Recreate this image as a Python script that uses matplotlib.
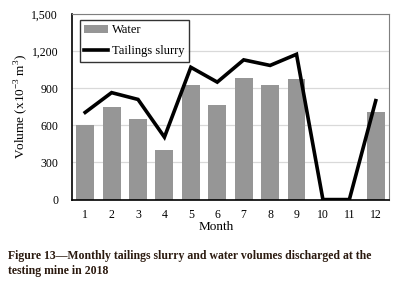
import matplotlib
matplotlib.use("Agg")
import matplotlib.pyplot as plt
from matplotlib.ticker import FuncFormatter

months = [1, 2, 3, 4, 5, 6, 7, 8, 9, 10, 11, 12]
water = [600, 750, 650, 400, 930, 765, 985, 925, 975, 0, 0, 710]
tailings = [705, 865, 810, 505, 1070, 950, 1130, 1085, 1175, 0, 0, 800]
yticks = [0, 300, 600, 900, 1200, 1500]

plt.rcParams['font.family'] = ['Liberation Serif', 'DejaVu Serif']
plt.rcParams['mathtext.fontset'] = 'custom'
plt.rcParams['mathtext.rm'] = 'Liberation Serif'

fig = plt.figure(figsize=(4.16, 2.88), dpi=100)
ax = fig.add_axes([0.173, 0.307, 0.762, 0.644])

bars = ax.bar(months, water, width=0.68, color='#969696', label='Water', zorder=2)
line, = ax.plot(months, tailings, color='black', lw=2.6, label='Tailings slurry', zorder=3,
                solid_joinstyle='miter')

ax.set_xlim(0.5, 12.5)
ax.set_ylim(0, 1500)
ax.set_yticks(yticks)
ax.set_xticks(months)
ax.yaxis.set_major_formatter(FuncFormatter(lambda v, p: f"{int(v):,}"))
ax.tick_params(length=0, labelsize=8.5)
ax.tick_params(axis='y', pad=10)
ax.tick_params(axis='x', pad=7)
ax.grid(axis='y', color='#d9d9d9', lw=0.9, zorder=0)
ax.set_axisbelow(True)
for s in ['top', 'right']:
    ax.spines[s].set_color('#7f7f7f')
    ax.spines[s].set_linewidth(0.8)
for s in ['left', 'bottom']:
    ax.spines[s].set_color('black')
    ax.spines[s].set_linewidth(1.2)

ax.set_xlabel('Month', fontsize=9.5)
ax.xaxis.set_label_coords(0.455, -0.118)
ax.set_ylabel('Volume (x10$^{-3}$ m$^{3}$)', fontsize=9.5, labelpad=1)

leg = ax.legend([bars, line], ['Water', 'Tailings slurry'], loc='upper left',
                bbox_to_anchor=(0.025, 0.968), fontsize=9, borderaxespad=0,
                frameon=True, fancybox=False, edgecolor='black', handlelength=1.9,
                handletextpad=0.3, borderpad=0.35, labelspacing=0.7)
leg.get_frame().set_linewidth(1.0)

fig.text(0.02, 0.085, 'Figure 13\u2014Monthly tailings slurry and water volumes discharged at the\ntesting mine in 2018',
         fontsize=8.5, fontweight='bold', color='#2b1a0f', va='center', linespacing=1.25)

fig.savefig('out.png', dpi=100)
